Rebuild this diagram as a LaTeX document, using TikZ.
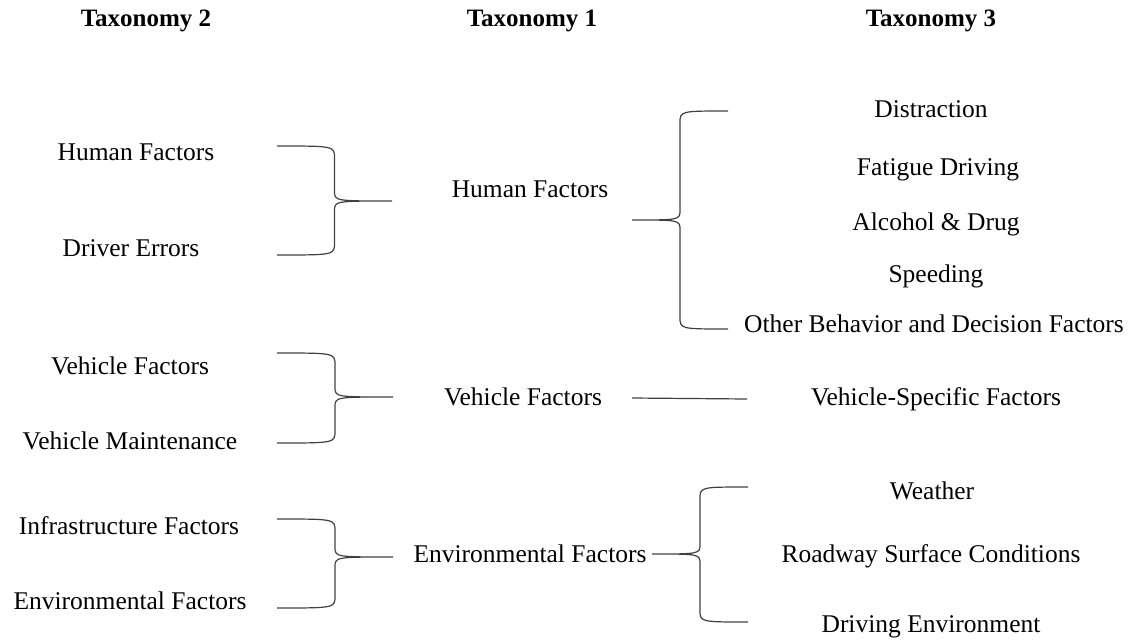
\documentclass[tikz,border=0pt]{standalone}
\usepackage{fontspec}
\setmainfont{Liberation Serif}
\usepackage{tikz}
\usetikzlibrary{calc,
  positioning
}

\newcommand{\curlybrace}[3]{%
  \draw[brace] let \p1=(#1), \p2=(#2), \p3=(#3), \p4=($(#1)!0.5!(#3)$) in
    (\p1) .. controls (\x4,\y1) .. (\x4,\y1-6pt) -- (\x4,\y3+5pt)
    .. controls (\x4,\y3) .. (\p3)
    .. controls (\x4,\y3) .. (\x4,\y3-5pt) -- (\x4,\y2+6pt)
    .. controls (\x4,\y2) .. (\p2) ;}

\begin{document}
\begin{tikzpicture}[x=0.5pt, y=-0.5pt,
  lbl/.style={inner sep=0pt, text height=0.6em, text depth=0pt, font=\fontsize{12.75}{15}\selectfont},
  hdr/.style={lbl, font=\fontsize{12.5}{15}\selectfont\bfseries},
  brace/.style={draw=black!75, line width=0.6pt},
  link/.style={draw=black!75, line width=0.6pt}]
  \useasboundingbox (0,0) rectangle (1134,643) ;

  \node[hdr] (t2) at (146, 20) {Taxonomy 2} ;
  \node[hdr] (t1) at (532, 20) {Taxonomy 1} ;
  \node[hdr] (t3) at (931, 20) {Taxonomy 3} ;

  % taxonomy 2
  \node[lbl] (hf2) at (136, 154) {Human Factors} ;
  \node[lbl] (de2) at (131, 250) {Driver Errors} ;
  \node[lbl] (vf2) at (130, 368) {Vehicle Factors} ;
  \node[lbl] (vm2) at (130, 443) {Vehicle Maintenance} ;
  \node[lbl] (if2) at (129, 528) {Infrastructure Factors} ;
  \node[lbl] (ef2) at (130, 603) {Environmental Factors} ;

  % taxonomy 1
  \node[lbl] (hf1) at (530, 191) {Human Factors} ;
  \node[lbl] (vf1) at (523, 399) {Vehicle Factors} ;
  \node[lbl] (ef1) at (530, 556) {Environmental Factors} ;

  % taxonomy 3
  \node[lbl] (dis) at (931, 111) {Distraction} ;
  \node[lbl] (fat) at (938, 169) {Fatigue Driving} ;
  \node[lbl] (alc) at (936, 224) {Alcohol \& Drug} ;
  \node[lbl] (spd) at (936, 276) {Speeding} ;
  \node[lbl] (oth) at (934, 326) {Other Behavior and Decision Factors} ;
  \node[lbl] (vsf) at (936, 399) {Vehicle-Specific Factors} ;
  \node[lbl] (wea) at (932, 493) {Weather} ;
  \node[lbl] (rsc) at (931, 556) {Roadway Surface Conditions} ;
  \node[lbl] (den) at (931, 626) {Driving Environment} ;

  \coordinate (b1t) at (277, 146) ;
  \coordinate (b1b) at (277, 255) ;
  \coordinate (b1m) at (392, 201) ;
  \coordinate (b2t) at (277, 353) ;
  \coordinate (b2b) at (277, 443) ;
  \coordinate (b2m) at (393, 397) ;
  \coordinate (b3t) at (277, 519) ;
  \coordinate (b3b) at (277, 608) ;
  \coordinate (b3m) at (393, 557) ;
  \coordinate (bat) at (728, 111) ;
  \coordinate (bab) at (728, 329) ;
  \coordinate (bam) at (632, 220) ;
  \coordinate (bct) at (748, 487) ;
  \coordinate (bcb) at (748, 622) ;
  \coordinate (bcm) at (652, 554) ;
  \coordinate (v1) at (632, 398) ;
  \coordinate (v2) at (747, 399) ;

  \curlybrace{b1t}{b1b}{b1m}
  \curlybrace{b2t}{b2b}{b2m}
  \curlybrace{b3t}{b3b}{b3m}
  \curlybrace{bat}{bab}{bam}
  \curlybrace{bct}{bcb}{bcm}

  \path[link] (v1) -- (v2) ;

\end{tikzpicture}
\end{document}
